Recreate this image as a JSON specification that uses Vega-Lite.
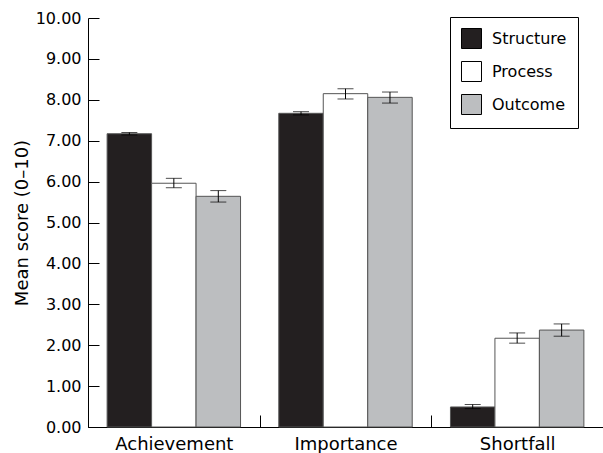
{
  "$schema": "https://vega.github.io/schema/vega-lite/v6.json",
  "width": 515,
  "height": 409,
  "autosize": "none",
  "padding": {"left": 88, "top": 18, "right": 0, "bottom": 26},
  "background": "white",
  "config": {
    "view": {"stroke": null},
    "font": "DejaVu Sans",
    "axis": {"labelColor": "black", "titleColor": "black", "domainColor": "black", "tickColor": "black", "labelFont": "DejaVu Sans", "titleFont": "DejaVu Sans", "ticks": true, "tickWidth": 1},
    "legend": {"labelFont": "DejaVu Sans"}
  },
  "data": {
    "values": [
      {"group": "Achievement", "series": "Structure", "mean": 7.17, "lo": 7.14, "hi": 7.20},
      {"group": "Achievement", "series": "Process", "mean": 5.96, "lo": 5.85, "hi": 6.08},
      {"group": "Achievement", "series": "Outcome", "mean": 5.64, "lo": 5.50, "hi": 5.78},
      {"group": "Importance", "series": "Structure", "mean": 7.67, "lo": 7.63, "hi": 7.71},
      {"group": "Importance", "series": "Process", "mean": 8.15, "lo": 8.02, "hi": 8.27},
      {"group": "Importance", "series": "Outcome", "mean": 8.06, "lo": 7.92, "hi": 8.19},
      {"group": "Shortfall", "series": "Structure", "mean": 0.49, "lo": 0.45, "hi": 0.55},
      {"group": "Shortfall", "series": "Process", "mean": 2.17, "lo": 2.05, "hi": 2.30},
      {"group": "Shortfall", "series": "Outcome", "mean": 2.37, "lo": 2.22, "hi": 2.52}
    ]
  },
  "encoding": {
    "x": {
      "field": "group", "type": "nominal", "sort": ["Achievement", "Importance", "Shortfall"],
      "scale": {"paddingInner": 0, "paddingOuter": 0},
      "axis": {"title": null, "labelAngle": 0, "labelFontSize": 18, "labelPadding": 20, "tickBand": "extent", "tickSize": -12, "domainWidth": 1, "tickWidth": 1}
    },
    "xOffset": {"field": "series", "type": "nominal", "sort": ["Structure", "Process", "Outcome"], "scale": {"paddingInner": 0, "paddingOuter": 0.43}}
  },
  "layer": [
    {
      "mark": {"type": "bar", "stroke": "#555555", "strokeWidth": 1},
      "encoding": {
        "y": {
          "field": "mean", "type": "quantitative",
          "scale": {"domain": [0, 10], "nice": false},
          "axis": {
            "title": "Mean score (0–10)", "titleFontSize": 18, "titleFontWeight": "normal", "titlePadding": 4,
            "format": ".2f", "values": [0,1,2,3,4,5,6,7,8,9,10], "labelFontSize": 16, "domainWidth": 1,
            "grid": false, "ticks": true, "tickSize": -11, "tickColor": "black", "tickWidth": 1, "labelPadding": 18, "zindex": 1,
            "encode": {"ticks": {"update": {"x": {"value": 0}, "x2": {"value": 11}, "stroke": {"value": "black"}, "strokeOpacity": {"value": 1}}}}
          }
        },
        "fill": {
          "field": "series", "type": "nominal", "sort": ["Structure", "Process", "Outcome"],
          "scale": {"domain": ["Structure", "Process", "Outcome"], "range": ["#231f20", "#ffffff", "#bcbec0"]},
          "legend": {
            "title": null, "orient": "none", "legendX": 362, "legendY": -1,
            "strokeColor": "black", "padding": 11, "symbolType": "square", "symbolSize": 400,
            "symbolStrokeColor": "black", "symbolStrokeWidth": 1, "labelFontSize": 16, "labelColor": "black",
            "rowPadding": 8, "labelOffset": 10, "fillColor": "white"
          }
        }
      }
    },
    {
      "mark": {"type": "rule", "color": "black", "strokeWidth": 1},
      "encoding": {"y": {"field": "lo", "type": "quantitative"}, "y2": {"field": "hi"}}
    },
    {
      "mark": {"type": "tick", "color": "black", "thickness": 1, "size": 16},
      "encoding": {"y": {"field": "lo", "type": "quantitative"}}
    },
    {
      "mark": {"type": "tick", "color": "black", "thickness": 1, "size": 16},
      "encoding": {"y": {"field": "hi", "type": "quantitative"}}
    }
  ]
}
